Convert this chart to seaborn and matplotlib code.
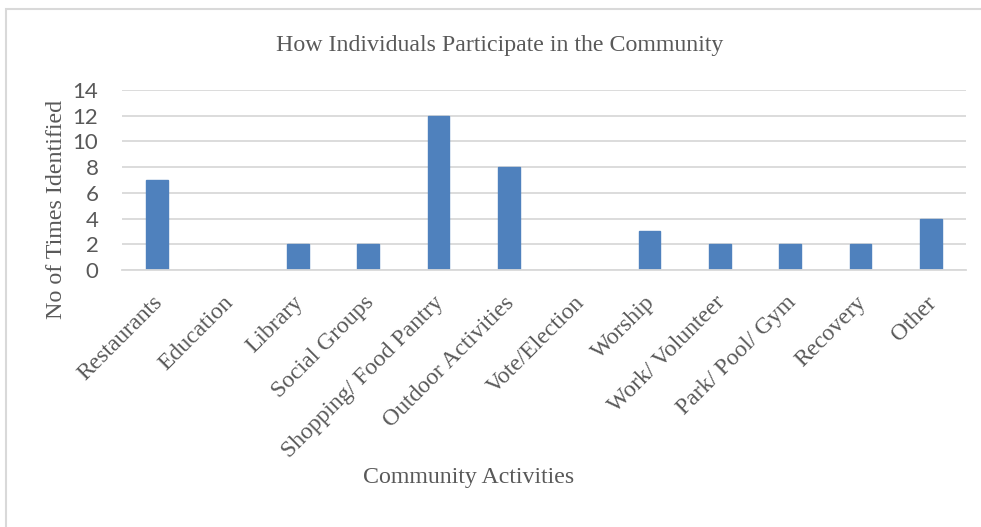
import matplotlib
matplotlib.use("Agg")
import matplotlib.pyplot as plt
import matplotlib.transforms as mtransforms
import seaborn as sns
import pandas as pd
from matplotlib.patches import Rectangle

categories = ["Restaurants", "Education", "Library", "Social Groups", "Shopping/ Food Pantry",
              "Outdoor Activities", "Vote/Election", "Worship", "Work/ Volunteer",
              "Park/ Pool/ Gym", "Recovery", "Other"]
counts = [7, 0, 2, 2, 12, 8, 0, 3, 2, 2, 2, 4]
yticks = [0, 2, 4, 6, 8, 10, 12, 14]

df = pd.DataFrame({"cat": categories, "n": counts})

sns.set_theme(style="white")
plt.rcParams['font.family'] = ['Liberation Serif', 'DejaVu Serif']

fig = plt.figure(figsize=(9.81, 5.27), dpi=100)
W, H = 981, 527
ax = fig.add_axes([122 / W, 1 - 270 / H, (966 - 122) / W, (270 - 90) / H])

sns.barplot(data=df, x="cat", y="n", ax=ax, color="#4F81BD", width=0.31,
            saturation=1, edgecolor="#4F81BD")

ax.set_ylim(0, 14)
ax.set_yticks(yticks)
ax.set_xlim(-0.5, len(categories) - 0.5)
ax.yaxis.grid(True, color="#D9D9D9", linewidth=1.3)
ax.set_axisbelow(True)
for s in ["top", "right", "left"]:
    ax.spines[s].set_visible(False)
ax.spines["bottom"].set_color("#D9D9D9")
ax.spines["bottom"].set_linewidth(1.3)
ax.tick_params(axis="both", length=0)
ax.tick_params(axis="y", pad=17)

for lbl in ax.get_yticklabels():
    lbl.set_fontfamily(["Lato", "DejaVu Sans"])
    lbl.set_fontsize(16)
    lbl.set_color("#595959")

ax.set_xticks(range(len(categories)))
ax.set_xticklabels(categories, rotation=45, ha="right", rotation_mode="anchor",
                   fontsize=17, color="#595959")
ax.tick_params(axis="x", pad=16)
offset = mtransforms.ScaledTranslation(-5 / 100, 0, fig.dpi_scale_trans)
for lbl in ax.get_xticklabels():
    lbl.set_transform(lbl.get_transform() + offset)

ax.set_xlabel("")
ax.set_ylabel("")
fig.text(57 / W, 1 - 209 / H, "No of Times Identified", rotation=90,
         ha="center", va="center", fontsize=17.3, color="#595959")
fig.text(469 / W, 1 - 478 / H, "Community Activities", ha="center", va="center",
         fontsize=17.2, color="#595959")
fig.text(499.5 / W, 1 - 45 / H, "How Individuals Participate in the Community",
         ha="center", va="center", fontsize=17.2, color="#595959")

fig.patches.append(Rectangle((6 / W, -0.05), 1.1, 1 - 9 / H + 0.05,
                             transform=fig.transFigure, fill=False,
                             edgecolor="#D9D9D9", linewidth=1.5))

fig.savefig("out.png", dpi=100)
